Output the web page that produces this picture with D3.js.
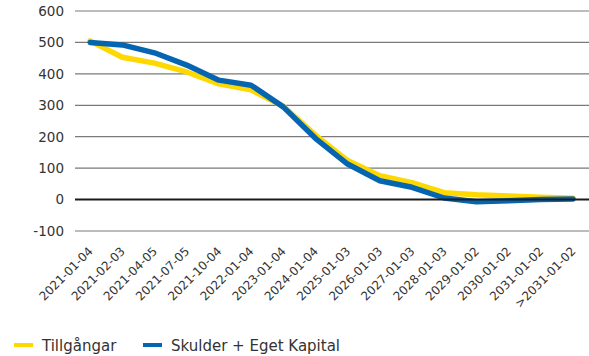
<!DOCTYPE html>
<html>
<head>
<meta charset="utf-8">
<script src="https://cdn.jsdelivr.net/npm/d3@7/dist/d3.min.js"></script>
<style>
  html, body { margin: 0; padding: 0; background: #fff; }
  svg { display: block; font-family: "DejaVu Sans", sans-serif; }
</style>
</head>
<body>
<svg id="chart" width="589" height="356"></svg>
<script>
// Maturity buckets on the x axis
const categories = [
  "2021-01-04", "2021-02-03", "2021-04-05", "2021-07-05", "2021-10-04",
  "2022-01-04", "2023-01-04", "2024-01-04", "2025-01-03", "2026-01-03",
  "2027-01-03", "2028-01-03", "2029-01-02", "2030-01-02", "2031-01-02",
  ">2031-01-02"
];

// Tillgångar (assets)
const tillgangar = [505, 453, 434, 406, 368, 349, 297, 205, 124, 76, 54, 22, 15, 11, 7, 4];

// Skulder + Eget Kapital (liabilities + equity)
const skulderEK = [500, 492, 467, 428, 380, 364, 295, 195, 113, 60, 39, 5, -7, -4, 0, 2];

const yTicks = [-100, 0, 100, 200, 300, 400, 500, 600];

const seriesNames = ["Tillgångar", "Skulder + Eget Kapital"];
const seriesColors = ["#ffd800", "#0665b0"];

const svg = d3.select("#chart");
const plotLeft = 74, plotRight = 589, plotTop = 11, plotBottom = 231;
const fontFamily = "'DejaVu Sans', sans-serif";

const x = d3.scalePoint().domain(categories).range([plotLeft, plotRight]).padding(0.5);
const y = d3.scaleLinear().domain([-100, 600]).range([plotBottom, plotTop]);

// Horizontal gridlines
svg.append("g")
  .selectAll("line")
  .data(yTicks.filter(d => d !== 0))
  .join("line")
  .attr("x1", plotLeft + 1).attr("x2", plotRight)
  .attr("y1", d => y(d)).attr("y2", d => y(d))
  .attr("stroke", "#7a7a7a").attr("stroke-width", 1.2);

// Y axis labels (plain hyphen for negatives)
const yAxis = d3.axisLeft(y).tickValues(yTicks).tickSize(0).tickPadding(0)
  .tickFormat(d => String(d));
svg.append("g")
  .attr("transform", `translate(64,0)`)
  .call(yAxis)
  .call(g => g.select(".domain").remove())
  .call(g => g.selectAll("text")
    .attr("font-size", 13.5)
    .attr("font-family", fontFamily)
    .attr("fill", "#333"));

// X axis labels, rotated
const xAxis = d3.axisBottom(x).tickSize(0).tickPadding(0);
svg.append("g")
  .attr("transform", `translate(0,${plotBottom + 14})`)
  .call(xAxis)
  .call(g => g.select(".domain").remove())
  .call(g => g.selectAll("text")
    .attr("font-size", 12)
    .attr("font-family", fontFamily)
    .attr("fill", "#333")
    .attr("text-anchor", "end")
    .attr("dy", "0.35em")
    .attr("transform", "translate(0,4) rotate(-45)"));

// Series lines
const line = d3.line()
  .x((d, i) => x(categories[i]))
  .y(d => y(d));

[tillgangar, skulderEK].forEach((vals, k) => {
  svg.append("path")
    .datum(vals)
    .attr("d", line)
    .attr("fill", "none")
    .attr("stroke", seriesColors[k])
    .attr("stroke-width", 5.5)
    .attr("stroke-linejoin", "round")
    .attr("stroke-linecap", "round");
});

// Zero line on top
svg.append("line")
  .attr("x1", plotLeft + 1).attr("x2", plotRight)
  .attr("y1", y(0)).attr("y2", y(0))
  .attr("stroke", "#1a1a1a").attr("stroke-width", 2);

// Legend
const legendX = [14, 143];
const legend = svg.append("g");
seriesNames.forEach((name, k) => {
  legend.append("rect")
    .attr("x", legendX[k]).attr("y", 343)
    .attr("width", 19).attr("height", 4)
    .attr("fill", seriesColors[k]);
  legend.append("text")
    .attr("x", legendX[k] + 28).attr("y", 351)
    .attr("font-size", 15)
    .attr("font-family", fontFamily)
    .attr("fill", "#333")
    .text(name);
});
</script>
</body>
</html>
